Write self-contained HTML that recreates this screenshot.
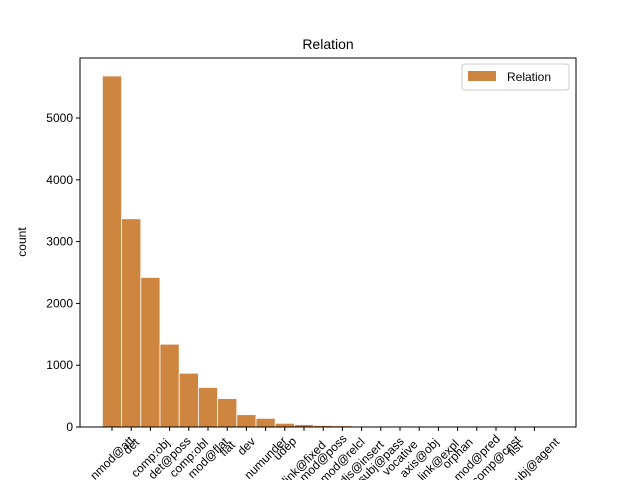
<!DOCTYPE html>
<html><head><meta charset="utf-8"><style>body{margin:0;background:#fff}svg{font-family:"Liberation Sans","DejaVu Sans",sans-serif}</style></head>
<body>
<svg id="c" width="640" height="480"></svg>
<script>
const categories=["nmod@att","det","comp:obj","det@poss","comp:obl","mod@flat","flat","dev","numunder","udep","link@fixed","mod@poss","mod@relcl","dis@insert","subj@pass","vocative","axis@obj","link@expl","orphan","mod@pred","comp@cnst","list","subj@agent"];
const values=[5680,3370,2420,1340,870,640,460,200,140,60,40,25,20,15,12,10,5,4,3,2,2,1,1];
const yTicks=[0,1000,2000,3000,4000,5000];
const svg=document.getElementById('c');const NS='http://www.w3.org/2000/svg';
function mk(t,a,txt){const e=document.createElementNS(NS,t);for(const k in a)e.setAttribute(k,a[k]);if(txt!==undefined)e.textContent=txt;svg.appendChild(e);return e;}
const L=80,R=576,T=58,B=427;
const x=i=>112+i*19.2;
const y=v=>B-v*0.0618;
values.forEach((v,i)=>{const r=mk('rect',{x:x(i)-9.6,y:y(v),width:19.2,height:B-y(v),fill:'#cd853f',stroke:'#fff','stroke-width':0.8});

});
const f=mk('rect',{x:L,y:T,width:R-L,height:B-T,fill:'none',stroke:'#000','stroke-width':1});

yTicks.forEach(t=>{mk('line',{x1:L-4,x2:L,y1:y(t),y2:y(t),stroke:'#000'});
const l=mk('text',{x:L-7,y:y(t)+4,'text-anchor':'end','font-size':12},t);
});
categories.forEach((c,i)=>{mk('line',{x1:x(i),x2:x(i),y1:B,y2:B+4,stroke:'#000'});
const w=c.length*6.6;const cy=B+8+(w*0.707+12*0.707)/2;
const l=mk('text',{x:x(i),y:cy+4,'text-anchor':'middle','font-size':12,transform:`rotate(-45 ${x(i)} ${cy})`},c);
});
const ti=mk('text',{x:328,y:49,'text-anchor':'middle','font-size':14},'Relation');

const yl=mk('text',{x:26,y:242,'text-anchor':'middle','font-size':12,transform:'rotate(-90 26 242)'},'count');

const lg=mk('rect',{x:462,y:64,width:107,height:26,rx:3,fill:'#fff',stroke:'#ccc'});

mk('rect',{x:468,y:71,width:28,height:10,fill:'#cd853f'});
const lt=mk('text',{x:507,y:81,'font-size':12},'Relation');

</script>
</body></html>
